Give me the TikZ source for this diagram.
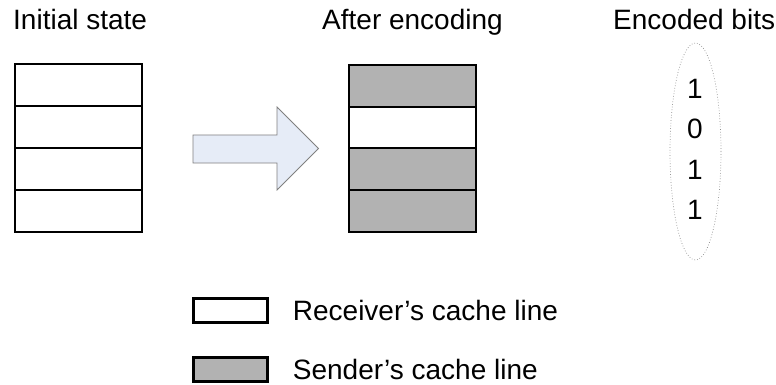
\documentclass[tikz,border=0pt]{standalone}
\usepackage{fontspec}
\setmainfont{Liberation Sans}
\usepackage{xcolor}
\usetikzlibrary{shapes.geometric, positioning, calc}

\definecolor{grigio}{HTML}{B2B2B2}
\definecolor{azzurro}{HTML}{E6ECF7}

\begin{document}
\begin{tikzpicture}[x=1pt,y=-1pt,
    font=\fontsize{28}{32}\selectfont,
    riga/.style={rectangle,draw=black,line width=2.4pt,minimum width=127pt,minimum height=42pt,inner sep=0pt},
    vuota/.style={riga,fill=white},
    piena/.style={riga,fill=grigio},
    legenda/.style={rectangle,draw=black,line width=2.4pt,minimum width=74pt,minimum height=24pt,inner sep=0pt}]
    \useasboundingbox (0,0) rectangle (776,385);

    % Titoli
    \node[anchor=base west,inner sep=0pt] (tinit) at (13,30) {Initial state};
    \node[anchor=base west,inner sep=0pt] (tenc) at (322,30) {After encoding};
    \node[anchor=base west,inner sep=0pt] (tbits) at (613,30) {Encoded bits};

    % Stato iniziale
    \node[vuota] (i1) at (78.5,85) {};
    \node[vuota] (i2) at (78.5,127) {};
    \node[vuota] (i3) at (78.5,169) {};
    \node[vuota] (i4) at (78.5,211) {};

    % Freccia
    \draw[draw=black!50,line width=0.8pt,fill=azzurro]
        (193,135) -- (277,135) -- (277,107) -- (318.5,148.5) -- (277,190) -- (277,163) -- (193,163) -- cycle;

    % Dopo la codifica
    \node[piena] (e1) at (412.5,86) {};
    \node[vuota] (e2) at (412.5,128) {};
    \node[piena] (e3) at (412.5,169) {};
    \node[piena] (e4) at (412.5,211) {};

    % Bit codificati
    \node[ellipse,draw=black!45,dotted,line width=0.7pt,minimum width=51pt,minimum height=217pt,inner sep=0pt] (bits) at (695.5,151.5) {};
    \node (b1) at (695,89) {1};
    \node (b2) at (695,129) {0};
    \node (b3) at (695,170) {1};
    \node (b4) at (695,210) {1};

    % Legenda
    \node[legenda,fill=white] (lr) at (230.5,310.5) {};
    \node[legenda,fill=grigio] (ls) at (230.5,369.5) {};
    \node[right=24pt of lr,inner sep=0pt] (txtr) {Receiver’s cache line};
    \node[right=24pt of ls,inner sep=0pt] (txts) {Sender’s cache line};
\end{tikzpicture}
\end{document}
